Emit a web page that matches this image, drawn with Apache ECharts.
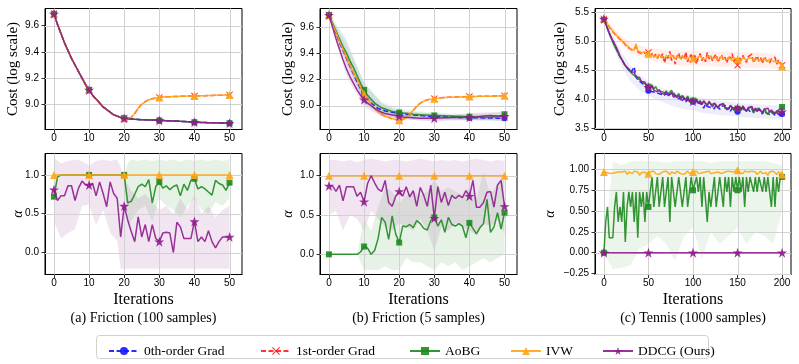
<!DOCTYPE html>
<html><head><meta charset="utf-8">
<script src="https://cdn.jsdelivr.net/npm/echarts@6/dist/echarts.min.js"></script>
<style>html,body{margin:0;padding:0;background:#fff}#c{width:799px;height:364px}</style>
</head><body><div id="c"></div>
<script>
// ---------------- DATA ----------------
const fricIters = Array.from({length: 51}, (_, i) => i);
const tennisIters = Array.from({length: 101}, (_, i) => 2 * i);

const fricXTicks = [0, 10, 20, 30, 40, 50];
const tennisXTicks = [0, 50, 100, 150, 200];
const fricCostTicks = [9.0, 9.2, 9.4, 9.6];
const tennisCostTicks = [3.5, 4.0, 4.5, 5.0, 5.5];
const fricAlphaTicks = [0.0, 0.5, 1.0];
const tennisAlphaTicks = [-0.25, 0.0, 0.25, 0.5, 0.75, 1.0];

const seriesNames = ['0th-order Grad', '1st-order Grad', 'AoBG', 'IVW', 'DDCG (Ours)'];
const captions = ['(a) Friction (100 samples)', '(b) Friction (5 samples)', '(c) Tennis (1000 samples)'];

// (a) Friction 100 samples - cost
const fricA_cost_main = [9.69, 9.61, 9.54, 9.47, 9.41, 9.35, 9.30, 9.25, 9.20, 9.15, 9.11,
  9.07, 9.04, 9.01, 8.98, 8.96, 8.94, 8.92, 8.91, 8.90, 8.893,
  8.890, 8.888, 8.886, 8.885, 8.883, 8.882, 8.881, 8.880, 8.879, 8.877,
  8.876, 8.875, 8.874, 8.873, 8.872, 8.870, 8.869, 8.868, 8.866, 8.864,
  8.863, 8.862, 8.861, 8.860, 8.860, 8.859, 8.858, 8.857, 8.857, 8.856];
const fricA_cost_ivw = [9.69, 9.61, 9.54, 9.47, 9.41, 9.35, 9.30, 9.25, 9.20, 9.15, 9.11,
  9.07, 9.04, 9.01, 8.98, 8.96, 8.94, 8.92, 8.91, 8.90, 8.893,
  8.890, 8.90, 8.93, 8.97, 9.00, 9.02, 9.035, 9.043, 9.049, 9.053,
  9.055, 9.057, 9.058, 9.059, 9.060, 9.061, 9.062, 9.063, 9.063, 9.064,
  9.065, 9.066, 9.066, 9.067, 9.068, 9.069, 9.070, 9.070, 9.071, 9.072];
// (a) alpha
const fricA_alpha_ivw = Array(51).fill(1.0);
const fricA_alpha_aobg = [0.72, 0.97, 1.0, 1.0, 1.0, 1.0, 1.0, 1.0, 1.0, 1.0,
  1.0, 1.0, 1.0, 1.0, 1.0, 1.0, 1.0, 1.0, 1.0, 1.0,
  1.0, 0.64, 0.66, 0.75, 0.85, 0.88, 0.85, 0.94, 0.64, 0.85,
  0.91, 0.83, 0.86, 0.81, 0.85, 0.87, 0.73, 0.88, 0.80, 0.93,
  0.95, 0.82, 0.85, 0.82, 0.78, 0.74, 0.93, 0.89, 0.87, 0.80, 0.90];
const fricA_alpha_ddcg = [0.81, 0.67, 0.73, 0.73, 0.86, 0.86, 0.67, 0.83, 0.92, 0.87,
  0.87, 0.89, 0.73, 0.91, 0.76, 0.59, 0.91, 0.76, 0.70, 0.20,
  0.60, 0.42, 0.27, 0.14, 0.46, 0.20, 0.36, 0.14, 0.36, 0.18,
  0.14, 0.25, 0.26, 0.25, 0.00, 0.39, 0.33, 0.18, 0.18, 0.18,
  0.40, 0.14, 0.20, 0.14, 0.28, 0.14, 0.06, 0.14, 0.20, 0.20, 0.20];
const fricA_band_ddcg_x = [0, 2, 4, 6, 8, 10, 12, 14, 16, 18, 19, 20, 22, 24, 26, 28, 30, 32, 34, 36, 38, 40, 42, 44, 46, 48, 50];
const fricA_band_ddcg_lo = [0.40, 0.18, 0.25, 0.30, 0.60, 0.62, 0.35, 0.55, 0.25, 0.15, -0.21, -0.21, -0.21, -0.21, -0.21, -0.21, -0.21, -0.21, -0.21, -0.21, -0.21, -0.21, -0.21, -0.21, -0.21, -0.21, -0.21];
const fricA_band_ddcg_hi = [1.22, 1.15, 1.18, 1.20, 1.18, 1.12, 1.18, 1.20, 1.18, 1.20, 1.10, 0.95, 0.80, 0.70, 0.75, 0.65, 0.55, 0.60, 0.50, 0.70, 0.55, 0.75, 0.50, 0.60, 0.45, 0.55, 0.60];
const fricA_band_aobg_x = [20, 21, 22, 24, 26, 28, 30, 32, 34, 36, 38, 40, 42, 44, 46, 48, 50];
const fricA_band_aobg_lo = [1.0, 0.35, 0.40, 0.55, 0.60, 0.40, 0.70, 0.60, 0.55, 0.45, 0.60, 0.70, 0.55, 0.50, 0.65, 0.60, 0.70];
const fricA_band_aobg_hi = [1.0, 1.15, 1.20, 1.18, 1.20, 1.18, 1.20, 1.18, 1.20, 1.17, 1.20, 1.18, 1.20, 1.18, 1.20, 1.18, 1.20];

// (b) Friction 5 samples - cost
const fricB_cost_zeroth = [9.69, 9.62, 9.55, 9.48, 9.42, 9.36, 9.30, 9.24, 9.18, 9.13, 9.08,
  9.05, 9.02, 9.00, 8.98, 8.97, 8.96, 8.955, 8.95, 8.945, 8.94,
  8.937, 8.934, 8.931, 8.929, 8.927, 8.925, 8.923, 8.921, 8.919, 8.918,
  8.917, 8.916, 8.915, 8.914, 8.913, 8.912, 8.911, 8.910, 8.910, 8.909,
  8.909, 8.908, 8.908, 8.907, 8.907, 8.906, 8.906, 8.905, 8.905, 8.905];
const fricB_cost_aobg = [9.69, 9.63, 9.57, 9.51, 9.45, 9.40, 9.34, 9.29, 9.23, 9.17, 9.12,
  9.08, 9.05, 9.02, 9.00, 8.985, 8.975, 8.965, 8.957, 8.952, 8.948,
  8.945, 8.942, 8.939, 8.936, 8.934, 8.932, 8.930, 8.929, 8.927, 8.926,
  8.925, 8.924, 8.923, 8.922, 8.921, 8.920, 8.919, 8.918, 8.917, 8.916,
  8.915, 8.914, 8.914, 8.913, 8.913, 8.914, 8.915, 8.917, 8.922, 8.935];
const fricB_cost_ivw = [9.69, 9.62, 9.56, 9.49, 9.43, 9.37, 9.31, 9.25, 9.20, 9.14, 9.09,
  9.05, 9.01, 8.98, 8.955, 8.935, 8.92, 8.91, 8.90, 8.895, 8.89,
  8.895, 8.91, 8.935, 8.965, 8.995, 9.02, 9.035, 9.045, 9.05, 9.054,
  9.057, 9.06, 9.062, 9.064, 9.065, 9.066, 9.067, 9.068, 9.069, 9.07,
  9.071, 9.071, 9.072, 9.072, 9.073, 9.073, 9.074, 9.074, 9.075, 9.075];
const fricB_cost_ddcg = [9.69, 9.60, 9.51, 9.43, 9.35, 9.28, 9.22, 9.17, 9.12, 9.08, 9.046,
  9.02, 9.00, 8.98, 8.965, 8.95, 8.94, 8.935, 8.93, 8.925, 8.92,
  8.915, 8.912, 8.91, 8.908, 8.906, 8.905, 8.905, 8.905, 8.905, 8.905,
  8.906, 8.907, 8.908, 8.909, 8.910, 8.910, 8.911, 8.911, 8.912, 8.912,
  8.913, 8.915, 8.918, 8.921, 8.924, 8.925, 8.924, 8.922, 8.921, 8.92];
const fricB_costband_x = [0, 5, 10, 15, 20, 25, 30, 35, 40, 45, 50];
const fricB_costband_zeroth_lo = [9.68, 9.32, 9.02, 8.92, 8.90, 8.89, 8.89, 8.89, 8.89, 8.89, 8.88];
const fricB_costband_zeroth_hi = [9.70, 9.50, 9.17, 9.02, 8.96, 8.95, 8.94, 8.93, 8.93, 8.93, 8.93];
const fricB_costband_aobg_lo = [9.68, 9.34, 9.06, 8.94, 8.92, 8.90, 8.90, 8.90, 8.89, 8.89, 8.90];
const fricB_costband_aobg_hi = [9.70, 9.46, 9.18, 9.03, 8.98, 8.96, 8.95, 8.94, 8.94, 8.94, 8.96];
const fricB_costband_ddcg_lo = [9.68, 9.22, 8.99, 8.92, 8.90, 8.89, 8.88, 8.89, 8.89, 8.89, 8.89];
const fricB_costband_ddcg_hi = [9.70, 9.36, 9.10, 8.99, 8.95, 8.93, 8.93, 8.93, 8.94, 8.95, 8.95];
// (b) alpha
const fricB_alpha_ivw = Array(51).fill(1.0);
const fricB_alpha_aobg = [0, 0, 0, 0, 0, 0, 0, 0, 0, 0.03,
  0.10, 0.08, 0.0, 0.05, 0.20, 0.47, 0.41, 0.19, 0.49, 0.26,
  0.15, 0.36, 0.35, 0.38, 0.34, 0.43, 0.39, 0.33, 0.31, 0.43,
  0.47, 0.36, 0.44, 0.28, 0.47, 0.38, 0.36, 0.39, 0.36, 0.21,
  0.40, 0.33, 0.26, 0.34, 0.39, 0.70, 0.28, 0.35, 0.53, 0.32, 0.53];
const fricB_alpha_ddcg = [0.87, 0.87, 0.80, 0.88, 0.68, 0.86, 0.86, 0.86, 0.74, 0.79,
  0.67, 0.90, 1.0, 0.91, 0.83, 0.80, 0.94, 0.66, 0.61, 0.74,
  0.80, 0.74, 0.86, 0.73, 0.81, 0.61, 0.85, 0.75, 0.61, 0.88,
  0.46, 0.86, 0.66, 0.79, 0.62, 0.75, 0.71, 0.75, 0.72, 0.81,
  0.74, 0.94, 0.60, 0.60, 0.66, 0.79, 0.80, 0.60, 0.88, 0.94, 0.61];
const fricB_band_x = [0, 2, 4, 6, 8, 10, 12, 14, 16, 18, 20, 22, 24, 26, 28, 30, 32, 34, 36, 38, 40, 42, 44, 46, 48, 50];
const fricB_band_ddcg_lo = [0.50, 0.55, 0.30, 0.50, 0.45, 0.30, 0.55, 0.45, 0.35, 0.30, 0.40, 0.35, 0.30, 0.45, 0.30, 0.05, 0.35, 0.30, 0.40, 0.35, 0.30, 0.25, 0.40, 0.35, 0.45, 0.25];
const fricB_band_ddcg_hi = [1.20, 1.20, 1.18, 1.20, 1.17, 1.20, 1.22, 1.20, 1.18, 1.20, 1.20, 1.18, 1.20, 1.22, 1.20, 1.18, 1.20, 1.19, 1.20, 1.18, 1.20, 1.22, 1.20, 1.18, 1.20, 1.19];
const fricB_band_aobg_lo = [0, 0, 0, 0, 0, -0.2, -0.2, -0.2, -0.15, -0.2, -0.2, -0.05, -0.1, -0.1, -0.15, -0.2, -0.1, -0.15, -0.1, -0.2, -0.15, -0.1, -0.05, -0.1, -0.05, 0.0];
const fricB_band_aobg_hi = [0, 0, 0, 0, 0, 0.45, 0.30, 0.60, 0.85, 0.80, 0.65, 0.75, 0.80, 0.75, 0.80, 0.95, 0.80, 0.85, 0.80, 0.75, 0.85, 0.70, 1.05, 0.75, 0.90, 0.95];

// (c) Tennis 1000 samples - cost (every 2 iterations)
const tennis_cost_zeroth = [5.37, 5.29, 5.21, 5.13, 5.06, 4.99, 4.92, 4.86, 4.79, 4.73, 4.68,
  4.63, 4.57, 4.53, 4.50, 4.45, 4.42, 4.55, 4.38, 4.33, 4.30, 4.28, 4.25, 4.23, 4.16, 4.14,
  4.13, 4.16, 4.12, 4.14, 4.10, 4.13, 4.08, 4.11, 4.06, 4.10, 4.04, 4.08, 4.06, 4.12, 4.03, 4.06, 4.00, 4.04, 3.97, 4.01, 3.95, 3.99, 3.93, 3.97, 3.95,
  3.93, 3.97, 3.90, 3.94, 3.88, 3.84, 3.91, 3.87, 3.90, 3.85, 3.88, 3.83, 3.90, 3.86, 3.82, 3.87, 3.84, 3.89, 3.81, 3.85, 3.79, 3.84, 3.80, 3.83, 3.78,
  3.82, 3.79, 3.84, 3.80, 3.77, 3.82, 3.78, 3.83, 3.76, 3.80, 3.77, 3.81, 3.78, 3.74, 3.80, 3.76, 3.79, 3.73, 3.77, 3.75, 3.72, 3.76, 3.73, 3.71, 3.74];
const tennis_cost_first = [5.38, 5.34, 5.30, 5.24, 5.22, 5.16, 5.14, 5.09, 5.08, 5.03, 5.02,
  4.98, 4.93, 4.93, 4.88, 4.87, 4.84, 4.86, 4.90, 4.81, 4.84, 4.78, 4.81, 4.79, 4.76, 4.80,
  4.74, 4.78, 4.72, 4.77, 4.70, 4.76, 4.71, 4.78, 4.62, 4.74, 4.70, 4.82, 4.66, 4.75, 4.60, 4.73, 4.79, 4.67, 4.74, 4.69, 4.81, 4.64, 4.72, 4.76, 4.68,
  4.75, 4.60, 4.73, 4.78, 4.66, 4.72, 4.64, 4.80, 4.69, 4.74, 4.65, 4.73, 4.77, 4.63, 4.70, 4.76, 4.67, 4.72, 4.62, 4.74, 4.69, 4.78, 4.64, 4.71, 4.58,
  4.72, 4.66, 4.75, 4.68, 4.63, 4.73, 4.70, 4.77, 4.62, 4.69, 4.74, 4.65, 4.71, 4.61, 4.73, 4.67, 4.70, 4.62, 4.69, 4.66, 4.72, 4.60, 4.67, 4.64, 4.58];
const tennis_cost_aobg = [5.36, 5.29, 5.21, 5.13, 5.05, 4.98, 4.91, 4.85, 4.79, 4.73, 4.68,
  4.63, 4.58, 4.55, 4.50, 4.48, 4.43, 4.41, 4.38, 4.36, 4.33, 4.31, 4.28, 4.25, 4.24, 4.21,
  4.19, 4.24, 4.17, 4.21, 4.15, 4.18, 4.13, 4.16, 4.11, 4.14, 4.09, 4.12, 4.15, 4.07, 4.10, 4.05, 4.09, 4.02, 4.06, 4.04, 3.99, 4.05, 3.98, 4.01, 3.97,
  3.96, 4.00, 3.93, 3.97, 3.91, 3.95, 3.92, 3.89, 3.96, 3.90, 3.87, 3.92, 3.94, 3.85, 3.89, 3.86, 3.91, 3.84, 3.87, 3.82, 3.88, 3.85, 3.80, 3.86, 3.83,
  3.85, 3.80, 3.87, 3.82, 3.78, 3.84, 3.81, 3.86, 3.76, 3.82, 3.79, 3.84, 3.80, 3.75, 3.83, 3.78, 3.73, 3.79, 3.82, 3.77, 3.80, 3.76, 3.81, 3.84, 3.86];
const tennis_cost_ivw = [5.38, 5.33, 5.29, 5.25, 5.21, 5.17, 5.13, 5.10, 5.07, 5.04, 5.01,
  4.97, 4.94, 4.92, 4.90, 4.86, 4.85, 4.84, 4.95, 4.83, 4.82, 4.80, 4.79, 4.81, 4.77, 4.78,
  4.76, 4.79, 4.74, 4.75, 4.72, 4.77, 4.73, 4.74, 4.70, 4.75, 4.72, 4.71, 4.76, 4.73, 4.69, 4.74, 4.72, 4.70, 4.75, 4.71, 4.73, 4.68, 4.72, 4.74, 4.70,
  4.73, 4.69, 4.72, 4.75, 4.70, 4.71, 4.68, 4.73, 4.70, 4.74, 4.69, 4.71, 4.72, 4.67, 4.70, 4.73, 4.69, 4.71, 4.68, 4.72, 4.70, 4.66, 4.71, 4.69, 4.68,
  4.70, 4.67, 4.72, 4.69, 4.66, 4.71, 4.68, 4.70, 4.65, 4.69, 4.72, 4.67, 4.69, 4.66, 4.70, 4.68, 4.64, 4.69, 4.67, 4.65, 4.68, 4.63, 4.66, 4.62, 4.56];
const tennis_cost_ddcg = [5.38, 5.30, 5.22, 5.14, 5.07, 5.01, 4.95, 4.89, 4.82, 4.74, 4.68,
  4.62, 4.57, 4.60, 4.52, 4.47, 4.44, 4.46, 4.38, 4.35, 4.37, 4.30, 4.27, 4.29, 4.22, 4.20,
  4.18, 4.22, 4.15, 4.17, 4.12, 4.16, 4.10, 4.13, 4.08, 4.14, 4.06, 4.09, 4.11, 4.03, 4.07, 4.02, 4.06, 3.98, 4.04, 4.01, 3.97, 4.03, 3.95, 3.99, 3.96,
  3.94, 3.99, 3.92, 3.96, 3.90, 3.97, 3.93, 3.88, 3.95, 3.91, 3.86, 3.93, 3.89, 3.84, 3.90, 3.87, 3.92, 3.85, 3.88, 3.83, 3.89, 3.86, 3.82, 3.87, 3.84,
  3.86, 3.81, 3.88, 3.83, 3.79, 3.85, 3.82, 3.87, 3.80, 3.84, 3.78, 3.83, 3.81, 3.76, 3.82, 3.79, 3.84, 3.77, 3.81, 3.78, 3.74, 3.80, 3.77, 3.75, 3.78];
const tennis_band_x = [0, 10, 20, 30, 40, 50, 60, 70, 80, 90, 100, 110, 120, 130, 140, 150, 160, 170, 180, 190, 200];
const tennis_costband_ivw_lo = [5.36, 5.12, 4.95, 4.78, 4.74, 4.68, 4.64, 4.60, 4.58, 4.56, 4.58, 4.56, 4.57, 4.55, 4.56, 4.55, 4.54, 4.53, 4.54, 4.52, 4.50];
const tennis_costband_ivw_hi = [5.40, 5.24, 5.08, 4.98, 4.92, 4.88, 4.86, 4.84, 4.85, 4.82, 4.84, 4.82, 4.83, 4.81, 4.82, 4.80, 4.81, 4.80, 4.79, 4.78, 4.66];
const tennis_costband_grad_lo = [5.34, 4.90, 4.55, 4.30, 4.15, 4.05, 3.98, 3.92, 3.86, 3.82, 3.80, 3.76, 3.74, 3.72, 3.71, 3.70, 3.68, 3.67, 3.66, 3.65, 3.64];
const tennis_costband_grad_hi = [5.40, 5.10, 4.80, 4.58, 4.42, 4.30, 4.22, 4.16, 4.12, 4.08, 4.05, 4.02, 3.99, 3.97, 3.95, 3.93, 3.92, 3.91, 3.90, 3.89, 3.88];
// (c) alpha
const tennis_alpha_ddcg = Array(101).fill(0.0);
const tennis_alpha_ivw = [0.97,
  0.97, 0.96, 0.98, 0.95, 0.97, 0.96, 0.98, 0.97, 0.95, 0.97,
  0.96, 0.98, 0.94, 0.97, 0.96, 0.95, 0.98, 0.96, 0.97, 0.93,
  0.96, 0.95, 0.97, 0.94, 0.95, 0.97, 0.96, 0.98, 0.95, 0.97,
  0.94, 0.96, 0.97, 0.95, 0.98, 0.96, 0.94, 0.97, 0.96, 0.95,
  0.98, 0.96, 0.95, 0.97, 0.94, 0.96, 0.98, 0.95, 0.97, 0.97,
  0.96, 0.98, 0.95, 0.97, 0.96, 0.94, 0.97, 0.96, 0.98, 0.95,
  0.97, 0.96, 0.94, 0.97, 0.98, 0.95, 0.96, 0.97, 0.95, 0.98,
  0.96, 0.97, 0.95, 0.98, 0.99, 0.96, 0.97, 0.95, 0.98, 0.96,
  0.97, 0.95, 0.98, 0.96, 0.97, 0.94, 0.96, 0.98, 0.95, 0.97,
  0.96, 0.93, 0.97, 0.95, 0.98, 0.96, 0.94, 0.97, 0.95, 0.94];
const tennis_alpha_aobg = [0.0,
  0.37, 0.55, 0.18, 0.18, 0.18, 0.55, 0.73, 0.37, 0.55, 0.37,
  0.73, 0.13, 0.55, 0.73, 0.55, 0.73, 0.37, 0.73, 0.18, 0.73,
  0.55, 0.73, 0.37, 0.73, 0.55, 0.73, 0.91, 0.55, 0.73, 0.91,
  0.55, 0.73, 0.91, 0.55, 0.73, 0.91, 0.37, 0.91, 0.73, 0.55,
  0.73, 0.91, 0.73, 0.55, 0.73, 0.91, 0.55, 0.73, 0.91, 0.75,
  0.73, 0.91, 0.73, 0.91, 0.55, 0.91, 0.91, 0.37, 0.73, 0.55,
  0.73, 0.91, 0.55, 0.73, 0.91, 0.91, 0.55, 0.91, 0.73, 0.91,
  0.55, 0.91, 0.73, 0.91, 0.75, 0.91, 0.73, 0.91, 0.55, 0.91,
  0.73, 0.91, 0.91, 0.73, 0.91, 0.73, 0.91, 0.91, 0.73, 0.91,
  0.73, 0.91, 0.73, 0.55, 0.91, 0.55, 0.91, 0.73, 0.91, 0.91];
const tennis_band_aobg_lo = [0.0, -0.2, -0.18, -0.15, 0.05, 0.10, 0.20, 0.10, -0.10, 0.20, 0.30, -0.08, 0.25, 0.10, 0.20, 0.30, 0.10, 0.25, 0.20, 0.10, 0.50];
const tennis_band_aobg_hi = [0.0, 1.10, 1.05, 1.10, 1.10, 1.10, 1.10, 1.08, 1.10, 1.10, 1.10, 1.10, 1.08, 1.10, 1.10, 1.10, 1.10, 1.10, 1.10, 1.08, 1.05];

// ---------------- STYLE / BUILD ----------------
const XPATH = 'path://M2,0L10,8L18,0L20,2L12,10L20,18L18,20L10,12L2,20L0,18L8,10L0,2Z';
const STAR = 'path://M50,0L61.8,35.1L98.9,35.1L68.9,56.8L80.3,91.9L50,70.2L19.7,91.9L31.1,56.8L1.1,35.1L38.2,35.1Z';
const STY = {
  '0th-order Grad': {color: '#1414ff', symbol: 'circle', size: 6, dash: [5, 2.5], z: 3},
  '1st-order Grad': {color: '#ff2020', symbol: XPATH, size: 7, dash: [5, 2.5], z: 4},
  'AoBG': {color: '#1f8a1f', symbol: 'rect', size: 6, dash: 'solid', z: 5},
  'IVW': {color: '#ffa514', symbol: 'triangle', size: 8, dash: 'solid', z: 6},
  'DDCG (Ours)': {color: '#8e1c8e', symbol: STAR, size: 10, dash: 'solid', z: 7}
};
function lineSeries(name, g, xs, ys, every) {
  const s = STY[name];
  return {
    type: 'line', name: name, xAxisIndex: g, yAxisIndex: g, z: s.z,
    data: xs.map((x, i) => [x, ys[i]]),
    symbol: s.symbol, showSymbol: true, showAllSymbol: true,
    symbolSize: (v, p) => (p.dataIndex % every === 0 ? s.size : 0),
    lineStyle: {color: s.color, width: 1.5, type: s.dash, opacity: 0.9},
    itemStyle: {color: s.color, opacity: 0.9},
    emphasis: {disabled: true}, silent: true
  };
}
function band(g, xs, lo, hi, color) {
  return {
    type: 'custom', xAxisIndex: g, yAxisIndex: g, silent: true, z: 1,
    data: [[xs[0], lo[0]]],
    renderItem: function (params, api) {
      const pts = [];
      for (let i = 0; i < xs.length; i++) pts.push(api.coord([xs[i], hi[i]]));
      for (let i = xs.length - 1; i >= 0; i--) pts.push(api.coord([xs[i], lo[i]]));
      return {type: 'polygon', shape: {points: pts}, style: {fill: color}, silent: true};
    }
  };
}
function gridLines(g, xt, yt) {
  return {
    type: 'custom', xAxisIndex: g, yAxisIndex: g, silent: true, z: 2,
    data: [[xt[0], yt[0]]],
    renderItem: function (params, api) {
      const cs = params.coordSys;
      const ch = [];
      xt.forEach(v => {
        const p = api.coord([v, yt[0]]);
        const x = Math.round(p[0]) + 0.5;
        ch.push({type: 'line', shape: {x1: x, y1: cs.y, x2: x, y2: cs.y + cs.height}, style: {stroke: '#d2d2d2', lineWidth: 1}});
      });
      yt.forEach(v => {
        const p = api.coord([xt[0], v]);
        const y = Math.round(p[1]) + 0.5;
        ch.push({type: 'line', shape: {x1: cs.x, y1: y, x2: cs.x + cs.width, y2: y}, style: {stroke: '#d2d2d2', lineWidth: 1}});
      });
      return {type: 'group', children: ch};
    }
  };
}

const grids = [
  {left: 45, top: 8.5, width: 197, height: 121},
  {left: 45, top: 153.5, width: 197, height: 121},
  {left: 320, top: 8.5, width: 197, height: 121},
  {left: 320, top: 153.5, width: 197, height: 121},
  {left: 595, top: 8.5, width: 196, height: 121},
  {left: 595, top: 153.5, width: 196, height: 121}
].map(g => Object.assign(g, {show: true, borderColor: '#000', borderWidth: 1, backgroundColor: 'transparent', outerBoundsMode: 'none', containLabel: false}));

const xSpecs = [
  [-2.55, 53.55, fricXTicks], [-2.55, 53.55, fricXTicks],
  [-2.55, 53.55, fricXTicks], [-2.55, 53.55, fricXTicks],
  [-10, 210, tennisXTicks], [-10, 210, tennisXTicks]
];
const ySpecs = [
  [8.808, 9.731, fricCostTicks, 1], [-0.2835, 1.276, fricAlphaTicks, 1],
  [8.819, 9.740, fricCostTicks, 1], [-0.256, 1.282, fricAlphaTicks, 1],
  [3.472, 5.559, tennisCostTicks, 1], [-0.262, 1.192, tennisAlphaTicks, 2]
];
const tickFont = {fontFamily: '"Liberation Sans", Arial, sans-serif', fontSize: 10, color: '#000'};
const xAxes = xSpecs.map((s, i) => ({
  type: 'value', gridIndex: i, min: s[0], max: s[1],
  axisLine: {show: true, onZero: false, lineStyle: {color: '#000', width: 1}},
  axisTick: {show: true, customValues: s[2], length: 3.5, lineStyle: {color: '#000', width: 0.8}},
  axisLabel: Object.assign({customValues: s[2], margin: 4, formatter: v => String(v)}, tickFont),
  splitLine: {show: false}
}));
const yAxes = ySpecs.map((s, i) => ({
  type: 'value', gridIndex: i, min: s[0], max: s[1],
  axisLine: {show: true, onZero: false, lineStyle: {color: '#000', width: 1}},
  axisTick: {show: true, customValues: s[2], length: 3.5, lineStyle: {color: '#000', width: 0.8}},
  axisLabel: Object.assign({customValues: s[2], margin: 6, formatter: v => v.toFixed(s[3]).replace('-', '\u2212')}, tickFont),
  splitLine: {show: false}
}));

const series = [];
const N = seriesNames;
// (a) top
series.push(gridLines(0, fricXTicks, fricCostTicks));
series.push(lineSeries(N[0], 0, fricIters, fricA_cost_main, 10));
series.push(lineSeries(N[1], 0, fricIters, fricA_cost_ivw, 10));
series.push(lineSeries(N[2], 0, fricIters, fricA_cost_main, 10));
series.push(lineSeries(N[3], 0, fricIters, fricA_cost_ivw, 10));
series.push(lineSeries(N[4], 0, fricIters, fricA_cost_main, 10));
// (a) bottom
series.push(band(1, fricA_band_ddcg_x, fricA_band_ddcg_lo, fricA_band_ddcg_hi, 'rgba(128,0,128,0.10)'));
series.push(band(1, fricA_band_aobg_x, fricA_band_aobg_lo, fricA_band_aobg_hi, 'rgba(0,128,0,0.10)'));
series.push(gridLines(1, fricXTicks, fricAlphaTicks));
series.push(lineSeries(N[2], 1, fricIters, fricA_alpha_aobg, 10));
series.push(lineSeries(N[3], 1, fricIters, fricA_alpha_ivw, 10));
series.push(lineSeries(N[4], 1, fricIters, fricA_alpha_ddcg, 10));
// (b) top
series.push(band(2, fricB_costband_x, fricB_costband_zeroth_lo, fricB_costband_zeroth_hi, 'rgba(70,110,170,0.16)'));
series.push(band(2, fricB_costband_x, fricB_costband_aobg_lo, fricB_costband_aobg_hi, 'rgba(0,128,0,0.08)'));
series.push(band(2, fricB_costband_x, fricB_costband_ddcg_lo, fricB_costband_ddcg_hi, 'rgba(128,0,128,0.10)'));
series.push(gridLines(2, fricXTicks, fricCostTicks));
series.push(lineSeries(N[0], 2, fricIters, fricB_cost_zeroth, 10));
series.push(lineSeries(N[1], 2, fricIters, fricB_cost_ivw, 10));
series.push(lineSeries(N[2], 2, fricIters, fricB_cost_aobg, 10));
series.push(lineSeries(N[3], 2, fricIters, fricB_cost_ivw, 10));
series.push(lineSeries(N[4], 2, fricIters, fricB_cost_ddcg, 10));
// (b) bottom
series.push(band(3, fricB_band_x, fricB_band_ddcg_lo, fricB_band_ddcg_hi, 'rgba(128,0,128,0.10)'));
series.push(band(3, fricB_band_x, fricB_band_aobg_lo, fricB_band_aobg_hi, 'rgba(0,128,0,0.10)'));
series.push(gridLines(3, fricXTicks, fricAlphaTicks));
series.push(lineSeries(N[2], 3, fricIters, fricB_alpha_aobg, 10));
series.push(lineSeries(N[3], 3, fricIters, fricB_alpha_ivw, 10));
series.push(lineSeries(N[4], 3, fricIters, fricB_alpha_ddcg, 10));
// (c) top
series.push(band(4, tennis_band_x, tennis_costband_ivw_lo, tennis_costband_ivw_hi, 'rgba(255,90,40,0.10)'));
series.push(band(4, tennis_band_x, tennis_costband_grad_lo, tennis_costband_grad_hi, 'rgba(90,90,220,0.10)'));
series.push(gridLines(4, tennisXTicks, tennisCostTicks));
series.push(lineSeries(N[0], 4, tennisIters, tennis_cost_zeroth, 25));
series.push(lineSeries(N[1], 4, tennisIters, tennis_cost_first, 25));
series.push(lineSeries(N[2], 4, tennisIters, tennis_cost_aobg, 25));
series.push(lineSeries(N[3], 4, tennisIters, tennis_cost_ivw, 25));
series.push(lineSeries(N[4], 4, tennisIters, tennis_cost_ddcg, 25));
// (c) bottom
series.push(band(5, tennis_band_x, tennis_band_aobg_lo, tennis_band_aobg_hi, 'rgba(0,128,0,0.08)'));
series.push(gridLines(5, tennisXTicks, tennisAlphaTicks));
series.push(lineSeries(N[2], 5, tennisIters, tennis_alpha_aobg, 25));
series.push(lineSeries(N[3], 5, tennisIters, tennis_alpha_ivw, 25));
series.push(lineSeries(N[4], 5, tennisIters, tennis_alpha_ddcg, 25));

const legendLefts = [103, 255, 404, 505, 597];
const legends = N.map((n, i) => ({
  data: [n], left: legendLefts[i], top: 339, itemWidth: 30, itemHeight: 10, selectedMode: false,
  textStyle: {fontFamily: '"Liberation Serif", serif', fontSize: 13.5, color: '#000'}
}));

const serif = '"Liberation Serif", "Times New Roman", serif';
const graphics = [
  {type: 'rect', z: 0, shape: {x: 96.5, y: 335.5, width: 612, height: 23, r: 3}, style: {fill: '#fff', stroke: '#d0d0d0', lineWidth: 1}}
];
const centers = [143.5, 418.5, 693];
const costLabelX = [13, 288, 560];
const alphaLabelX = [18, 288, 550];
centers.forEach((cx, i) => {
  graphics.push({type: 'text', x: cx, y: 318, style: {text: captions[i], font: '14px ' + serif, fill: '#000', align: 'center', verticalAlign: 'middle'}});
  graphics.push({type: 'text', x: cx, y: 299.5, style: {text: 'Iterations', font: '16px ' + serif, fill: '#000', align: 'center', verticalAlign: 'middle'}});
  graphics.push({type: 'text', x: costLabelX[i], y: 69, rotation: Math.PI / 2, style: {text: 'Cost (log scale)', font: '15px ' + serif, fill: '#000', align: 'center', verticalAlign: 'middle'}});
  graphics.push({type: 'text', x: alphaLabelX[i], y: 214, rotation: Math.PI / 2, style: {text: 'α', font: 'italic 14px ' + serif, fill: '#000', align: 'center', verticalAlign: 'middle'}});
});

const chart = echarts.init(document.getElementById('c'), null, {renderer: 'canvas'});
chart.setOption({
  animation: false,
  backgroundColor: '#fff',
  grid: grids,
  xAxis: xAxes,
  yAxis: yAxes,
  legend: legends,
  graphic: graphics,
  series: series
});
</script></body></html>
